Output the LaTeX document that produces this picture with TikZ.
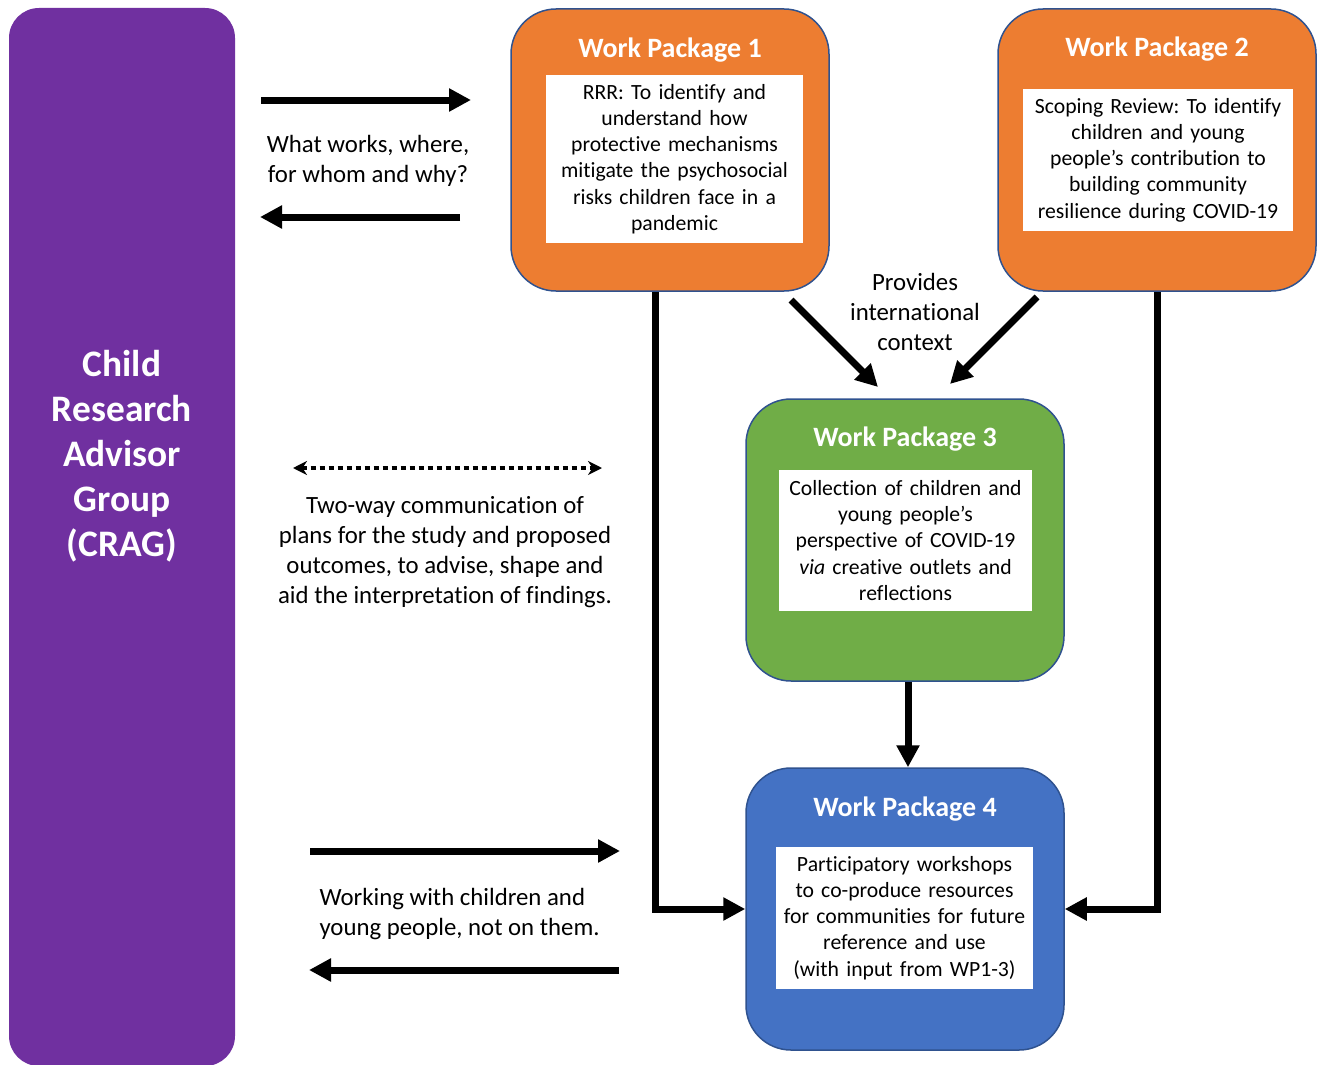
\documentclass[tikz,border=0pt]{standalone}
\usepackage{fontspec}
\setmainfont[Ligatures=NoCommon]{Carlito}
\usetikzlibrary{arrows.meta}
\definecolor{wporange}{HTML}{ED7D31}
\definecolor{wpgreen}{HTML}{70AD47}
\definecolor{wpblue}{HTML}{4472C4}
\definecolor{wppurple}{HTML}{7030A0}
\definecolor{wpline}{HTML}{2F528F}
\frenchspacing
\begin{document}
\begin{tikzpicture}[x=1pt,y=-1pt,
  pack/.style={draw=wpline, line width=1.5pt, rounded corners=45pt, minimum width=318pt, minimum height=282pt},
  title/.style={text=white, font=\fontsize{28}{32}\selectfont\bfseries},
  inbox/.style={fill=white, inner sep=0pt, align=center, font=\fontsize{21.7}{26.2}\selectfont},
  side/.style={align=center, font=\fontsize{24.8}{30}\selectfont},
  flow/.style={line width=7pt, -{Triangle[length=22pt,width=22pt]}},
  twoway/.style={line width=3.5pt, dash pattern=on 5pt off 4pt, {Stealth[length=14pt,width=14pt]}-{Stealth[length=14pt,width=14pt]}}]
\useasboundingbox (0,0) rectangle (1317,1065);
% advisor group
\node(0) at (122,537) [fill=wppurple, rounded corners=30pt, minimum width=226pt, minimum height=1058pt]{};
\node(01) at (122,456) [text=white, align=center, font=\fontsize{37.4}{45}\selectfont\bfseries]{Child\\Research\\Advisor\\Group\\(CRAG)};
% work packages
\node(1) at (670,150) [pack, fill=wporange]{};
\node(2) at (1157,150) [pack, fill=wporange]{};
\node(3) at (905,540) [pack, fill=wpgreen]{};
\node(4) at (905,909) [pack, fill=wpblue]{};
\node(12) at (670,50) [title]{Work Package 1};
\node(22) at (1157,49) [title]{Work Package 2};
\node(32) at (905,439) [title]{Work Package 3};
\node(42) at (905,809) [title]{Work Package 4};
\node(11) at (674.5,159) [inbox, text width=257pt, minimum height=168pt]{RRR: To identify and\\understand how\\protective mechanisms\\mitigate the psychosocial\\risks children face in a\\pandemic};
\node(21) at (1158,160) [inbox, text width=270pt, minimum height=142pt]{Scoping Review: To identify\\children and young\\people’s contribution to\\building community\\resilience during COVID-19};
\node(31) at (905.5,540.5) [inbox, text width=253pt, minimum height=141pt]{Collection of children and\\young people’s\\perspective of COVID-19\\\textit{via} creative outlets and\\reflections};
\node(41) at (904.5,918) [inbox, text width=257pt, minimum height=142pt]{Participatory workshops\\to co-produce resources\\for communities for future\\reference and use\\(with input from WP1-3)};
% labels
\node(5) at (368,161) [side]{What works, where,\\for whom and why?};
\node(6) at (445,552) [side]{Two-way communication of\\plans for the study and proposed\\outcomes, to advise, shape and\\aid the interpretation of findings.};
\node(7) at (915,312) [side]{Provides\\international\\context};
\node(8) at (316,914) [side, anchor=west, align=left]{Working with children and\\young people, not on them.};
% arrow ends
\coordinate(a1) at (261,100);
\coordinate(a2) at (471,100);
\coordinate(b1) at (460,217);
\coordinate(b2) at (260,217);
\coordinate(c1) at (293,468);
\coordinate(c2) at (602,468);
\coordinate(e1) at (310,851);
\coordinate(e2) at (620,851);
\coordinate(f1) at (619,970);
\coordinate(f2) at (309,970);
\coordinate(g1) at (791,300);
\coordinate(g2) at (878,387);
\coordinate(h1) at (1037,297);
\coordinate(h2) at (950,384);
\draw[flow] (a1) to (a2);
\draw[flow] (b1) to (b2);
\draw[twoway] (c1) to (c2);
\draw[flow] (e1) to (e2);
\draw[flow] (f1) to (f2);
\draw[flow] (g1) to (g2);
\draw[flow] (h1) to (h2);
\draw[flow] ([xshift=-15pt]1.south) |- (4.west);
\draw[flow] (2.south) |- (4.east);
\draw[flow] ([xshift=3pt]3.south) to ([xshift=3pt]4.north);
\end{tikzpicture}
\end{document}
